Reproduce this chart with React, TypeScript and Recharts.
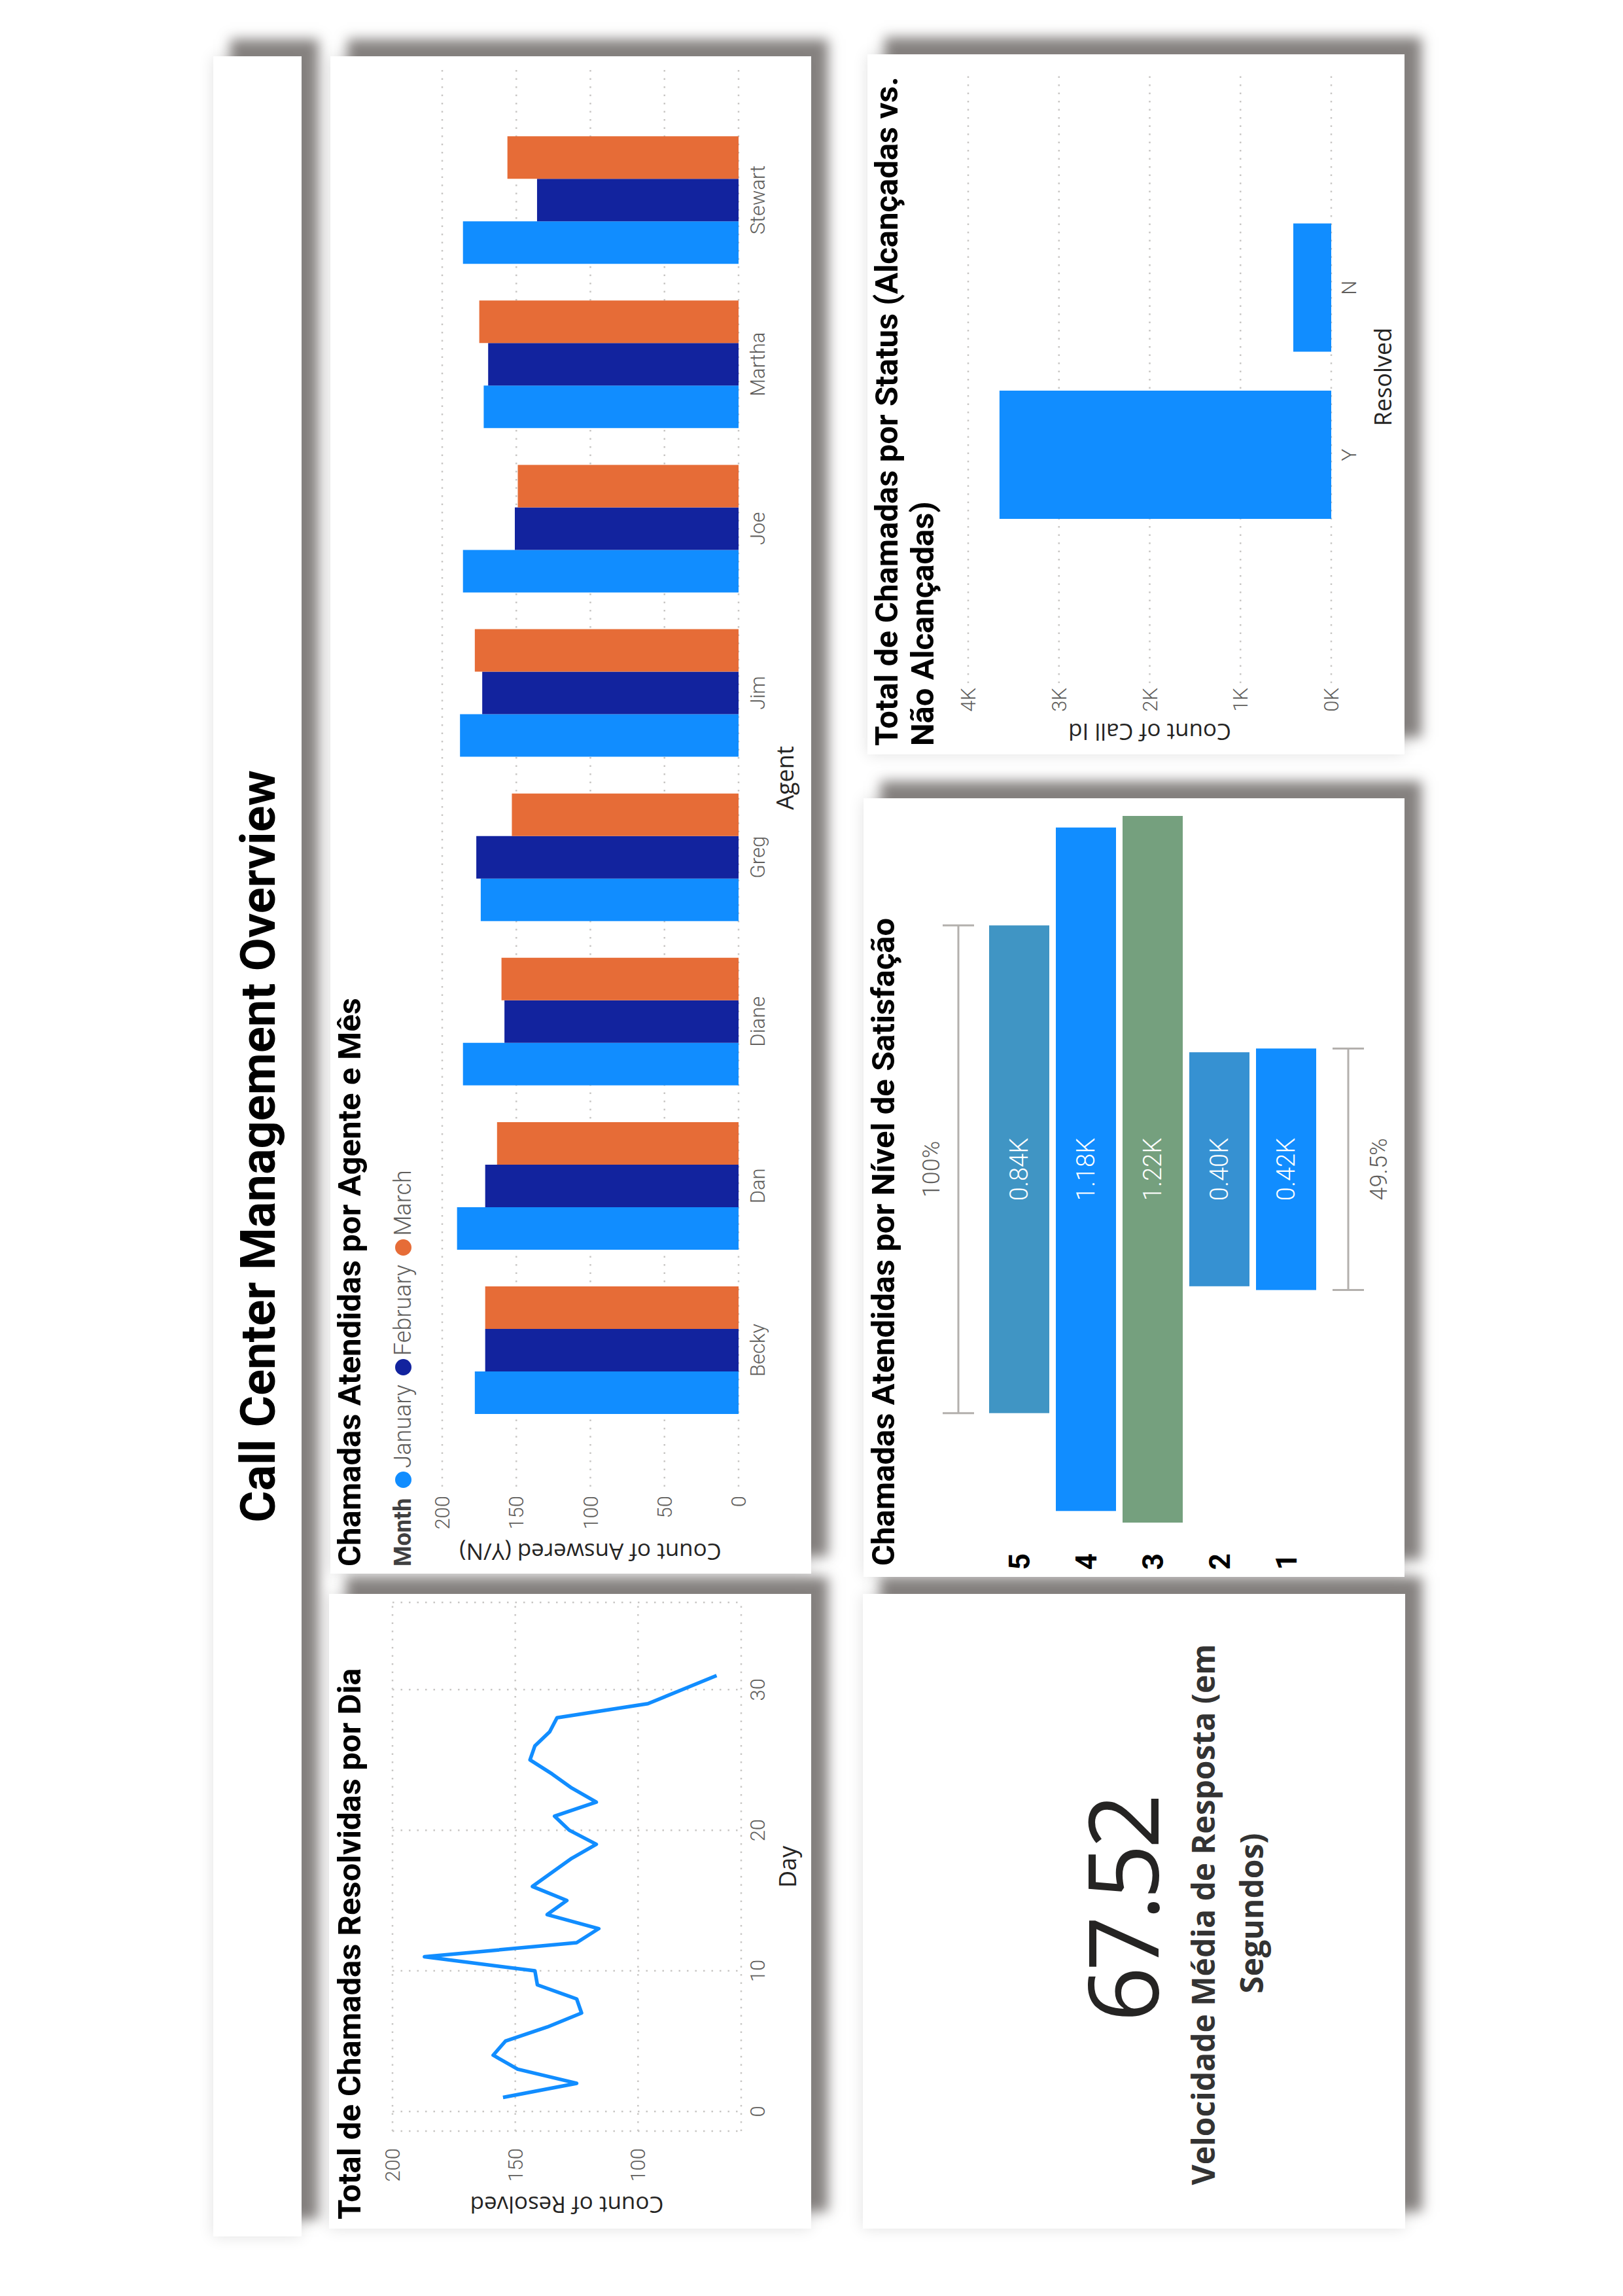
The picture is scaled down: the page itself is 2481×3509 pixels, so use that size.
import React from "react";
import {
  Bar,
  BarChart,
  CartesianGrid,
  Cell,
  LabelList,
  Legend,
  Line,
  LineChart,
  XAxis,
  YAxis,
} from "recharts";

// page is portrait, the dashboard is drawn landscape and turned -90deg
const PAGE_W = 2481;
const PAGE_H = 3509;

const days = [1, 2, 3, 4, 5, 6, 7, 8, 9, 10, 11, 12, 13, 14, 15, 16, 17, 18, 19, 20, 21, 22, 23, 24, 25, 26, 27, 28, 29, 30, 31];
const resolvedPerDay = [155, 125, 149, 159, 154, 137, 123, 125, 141, 142, 187, 125, 116, 137, 129, 143, 135, 127, 117, 128, 134, 117, 127, 135, 144, 142, 136, 133, 96, 82, 68];
const dayTicks = [0, 10, 20, 30];
const resolvedTicks = [100, 150, 200];

const agents = ["Becky", "Dan", "Diane", "Greg", "Jim", "Joe", "Martha", "Stewart"];
const months = ["January", "February", "March"];
const januaryAnswered = [178, 190, 186, 174, 188, 186, 172, 186];
const februaryAnswered = [171, 171, 158, 177, 173, 151, 169, 136];
const marchAnswered = [171, 163, 160, 153, 178, 149, 175, 156];
const answeredTicks = [0, 50, 100, 150, 200];

const resolvedFlags = ["Y", "N"];
const callCounts = [3655, 418];
const callTicks = [0, 1000, 2000, 3000, 4000];

const satisfactionLevels = ["5", "4", "3", "2", "1"];
const satisfactionCounts = [842, 1180, 1220, 404, 417];

const avgAnswerSpeed = "67.52";

const BLUE = "#118DFF";
const NAVY = "#12239E";
const ORANGE = "#E66C37";
const levelColors = ["#4095C4", "#118DFF", "#75A07E", "#3691D2", "#118DFF"];
const GRID = "#C8C6C4";

const lineData = days.map((day, i) => ({ day, resolved: resolvedPerDay[i] }));
const agentData = agents.map((agent, i) => ({
  agent,
  january: januaryAnswered[i],
  february: februaryAnswered[i],
  march: marchAnswered[i],
}));
const statusData = resolvedFlags.map((flag, i) => ({ flag, calls: callCounts[i] }));
const maxSatisfaction = Math.max(...satisfactionCounts);
const funnelData = satisfactionLevels.map((level, i) => ({
  level,
  pad: (maxSatisfaction - satisfactionCounts[i]) / 2,
  count: satisfactionCounts[i],
}));

const tickStyle = { fill: "#605E5C", fontSize: 31, fontFamily: "Roboto", fontWeight: 300 };
const axisTitle = { fill: "#252423", fontSize: 35, fontFamily: "Open Sans" };
const titleStyle: React.CSSProperties = {
  position: "absolute",
  fontFamily: "Roboto",
  fontWeight: 700,
  fontSize: 49,
  lineHeight: "55px",
  color: "#000",
  whiteSpace: "nowrap",
};

function Panel({ u, v, w, h, children }: { u: number; v: number; w: number; h: number; children?: React.ReactNode }) {
  return (
    <div
      style={{
        position: "absolute",
        left: u,
        top: v,
        width: w,
        height: h,
        background: "#fff",
        boxShadow: "26px 26px 18px rgba(120,115,113,0.9), 0 0 22px rgba(0,0,0,0.12)",
      }}
    >
      {children}
    </div>
  );
}

function MonthLegend({ payload }: any) {
  const items = [...(payload || [])].sort((a: any, b: any) => months.indexOf(a.value) - months.indexOf(b.value));
  return (
    <div style={{ display: "flex", alignItems: "center", fontSize: 36, fontFamily: "Roboto", whiteSpace: "nowrap" }}>
      <span style={{ fontWeight: 700, color: "#404040", marginRight: 16 }}>Month</span>
      {items.map((p: any) => (
        <span key={p.value} style={{ display: "flex", alignItems: "center", marginRight: 14 }}>
          <span style={{ width: 25, height: 25, borderRadius: 13, background: p.color, marginRight: 5 }} />
          <span style={{ color: "#605E5C", fontWeight: 300 }}>{p.value}</span>
        </span>
      ))}
    </div>
  );
}

function Bracket({ x0, x1, y, textY, text }: { x0: number; x1: number; y: number; textY: number; text: string }) {
  return (
    <g>
      <line x1={x0} x2={x1} y1={y} y2={y} stroke="#B3B0AD" strokeWidth={3} />
      <line x1={x0} x2={x0} y1={y - 24} y2={y + 24} stroke="#B3B0AD" strokeWidth={3} />
      <line x1={x1} x2={x1} y1={y - 24} y2={y + 24} stroke="#B3B0AD" strokeWidth={3} />
      <text x={(x0 + x1) / 2} y={textY} textAnchor="middle" fill="#605E5C" fontSize={36} fontFamily="Roboto" fontWeight={300}>
        {text}
      </text>
    </g>
  );
}

function FunnelBar(props: any) {
  const { x, y, width, height, index } = props;
  const last = satisfactionCounts.length - 1;
  const ratio = ((satisfactionCounts[last] / satisfactionCounts[0]) * 100).toFixed(1) + "%";
  return (
    <g>
      <rect x={x} y={y} width={width} height={height} fill={levelColors[index]} />
      {index === 0 && <Bracket x0={x} x1={x + width} y={y - 47} textY={y - 76} text="100%" />}
      {index === last && <Bracket x0={x} x1={x + width} y={y + height + 49} textY={y + height + 108} text={ratio} />}
    </g>
  );
}

export default function App() {
  return (
    <div
      style={{
        position: "absolute",
        left: 0,
        top: 0,
        width: PAGE_H,
        height: PAGE_W,
        background: "#fff",
        transformOrigin: "0 0",
        transform: `translate(0px, ${PAGE_H}px) rotate(-90deg)`,
        fontFamily: "Roboto, sans-serif",
      }}
    >
      {/* title band */}
      <Panel u={91} v={326} w={3332} h={135}>
        <div
          style={{
            height: "100%",
            display: "flex",
            alignItems: "center",
            justifyContent: "center",
            fontFamily: "Roboto",
            fontWeight: 700,
            fontSize: 74,
            color: "#000",
            paddingTop: 2,
            boxSizing: "border-box",
          }}
        >
          Call Center Management Overview
        </div>
      </Panel>

      {/* resolved per day */}
      <Panel u={103} v={503} w={970} h={737}>
        <div style={{ ...titleStyle, left: 14, top: 4 }}>Total de Chamadas Resolvidas por Dia</div>
        <LineChart width={970} height={737} data={lineData} margin={{ top: 97, right: 13, bottom: 7, left: 0 }}>
          <CartesianGrid stroke={GRID} strokeDasharray="2.5 10" strokeWidth={2.5} />
          <XAxis
            dataKey="day"
            type="number"
            domain={[-1.4, 36.2]}
            ticks={dayTicks}
            allowDataOverflow
            axisLine={false}
            tickLine={false}
            height={100}
            tickMargin={8}
            tick={tickStyle}
            label={{ value: "Day", position: "insideBottom", offset: 16, ...axisTitle, fontSize: 36 }}
          />
          <YAxis
            type="number"
            domain={[58, 200]}
            ticks={resolvedTicks}
            allowDataOverflow
            width={149}
            axisLine={false}
            tickLine={false}
            tickMargin={20}
            tick={tickStyle}
            label={{ value: "Count of Resolved", angle: -90, position: "insideLeft", offset: 37, ...axisTitle, style: { textAnchor: "middle" } }}
          />
          <Line
            dataKey="resolved"
            type="linear"
            stroke={BLUE}
            strokeWidth={5.5}
            strokeLinejoin="round"
            dot={false}
            isAnimationActive={false}
          />
        </LineChart>
      </Panel>

      {/* answered per agent and month */}
      <Panel u={1104} v={505} w={2319} h={735}>
        <div style={{ ...titleStyle, left: 11, top: 2 }}>Chamadas Atendidas por Agente e Mês</div>
        <BarChart
          width={2319}
          height={735}
          data={agentData}
          margin={{ top: 171, right: 20, bottom: 7, left: 0 }}
          barCategoryGap={28}
          barGap={0}
        >
          <CartesianGrid vertical={false} stroke={GRID} strokeDasharray="2.5 10" strokeWidth={2.5} />
          <XAxis
            dataKey="agent"
            padding={{ left: 83, right: 74 }}
            height={104}
            axisLine={false}
            tickLine={false}
            tickMargin={12}
            tick={tickStyle}
            label={{ value: "Agent", position: "insideBottom", offset: 20, ...axisTitle, fontSize: 36 }}
          />
          <YAxis
            domain={[0, 200]}
            ticks={answeredTicks}
            allowDataOverflow
            width={133}
            axisLine={false}
            tickLine={false}
            tickMargin={8}
            tick={tickStyle}
            label={{ value: "Count of Answered (Y/N)", angle: -90, position: "insideLeft", offset: 34, ...axisTitle, style: { textAnchor: "middle" } }}
          />
          <Legend
            layout="horizontal"
            verticalAlign="middle"
            align="center"
            content={<MonthLegend />}
            wrapperStyle={{ position: "absolute", left: 11, top: 90, width: "auto" }}
          />
          <Bar dataKey="january" name={months[0]} fill={BLUE} isAnimationActive={false} />
          <Bar dataKey="february" name={months[1]} fill={NAVY} isAnimationActive={false} />
          <Bar dataKey="march" name={months[2]} fill={ORANGE} isAnimationActive={false} />
        </BarChart>
      </Panel>

      {/* average answer speed */}
      <Panel u={103} v={1319} w={970} h={829}>
        <svg width={970} height={829}>
          <text x={487} y={452} textAnchor="middle" fontFamily="Open Sans" fontSize={148} letterSpacing={-7} fill="#252423">
            {avgAnswerSpeed}
          </text>
          <text x={480} y={538} textAnchor="middle" fontFamily="Open Sans" fontWeight={700} fontSize={48} fill="#333">
            Velocidade Média de Resposta (em
          </text>
          <text x={482} y={612} textAnchor="middle" fontFamily="Open Sans" fontWeight={700} fontSize={48} fill="#333">
            Segundos)
          </text>
        </svg>
      </Panel>

      {/* satisfaction funnel */}
      <Panel u={1099} v={1320} w={1190} h={827}>
        <div style={{ ...titleStyle, left: 17, top: 3 }}>Chamadas Atendidas por Nível de Satisfação</div>
        <BarChart
          layout="vertical"
          width={1190}
          height={827}
          data={funnelData}
          margin={{ top: 187, right: 27, bottom: 130, left: 0 }}
          barCategoryGap={5}
        >
          <XAxis type="number" hide domain={[0, maxSatisfaction]} allowDataOverflow />
          <YAxis
            type="category"
            dataKey="level"
            width={83}
            axisLine={false}
            tickLine={false}
            tickMargin={41}
            tick={{ fill: "#000", fontSize: 44, fontFamily: "Roboto", fontWeight: 700 }}
          />
          <Bar dataKey="pad" stackId="f" fill="transparent" isAnimationActive={false} />
          <Bar dataKey="count" stackId="f" isAnimationActive={false} shape={<FunnelBar />}>
            {funnelData.map((d, i) => (
              <Cell key={d.level} fill={levelColors[i]} />
            ))}
            <LabelList
              dataKey="count"
              position="center"
              formatter={(v: any) => `${(Number(v) / 1000).toFixed(2)}K`}
              fill="#fff"
              fontSize={38}
              fontFamily="Roboto"
              fontWeight={300}
            />
          </Bar>
        </BarChart>
      </Panel>

      {/* resolved status */}
      <Panel u={2356} v={1326} w={1070} h={821}>
        <div style={{ ...titleStyle, left: 13, top: 2 }}>
          Total de Chamadas por Status (Alcançadas vs.
          <br />
          Não Alcançadas)
        </div>
        <BarChart
          width={1070}
          height={821}
          data={statusData}
          margin={{ top: 154, right: 25, bottom: 7, left: 0 }}
          barCategoryGap={30}
        >
          <CartesianGrid vertical={false} stroke={GRID} strokeDasharray="2.5 10" strokeWidth={2.5} />
          <XAxis
            dataKey="flag"
            padding={{ left: 221, right: 204 }}
            height={105}
            axisLine={false}
            tickLine={false}
            tickMargin={10}
            tick={tickStyle}
            label={{ value: "Resolved", position: "insideBottom", offset: 13, ...axisTitle, fontSize: 36 }}
          />
          <YAxis
            domain={[0, 4000]}
            ticks={callTicks}
            allowDataOverflow
            tickFormatter={(v: number) => `${v / 1000}K`}
            width={109}
            axisLine={false}
            tickLine={false}
            tickMargin={1}
            tick={tickStyle}
            label={{ value: "Count of Call Id", angle: -90, position: "insideLeft", offset: 35, ...axisTitle, style: { textAnchor: "middle" } }}
          />
          <Bar dataKey="calls" fill={BLUE} isAnimationActive={false} />
        </BarChart>
      </Panel>
    </div>
  );
}
